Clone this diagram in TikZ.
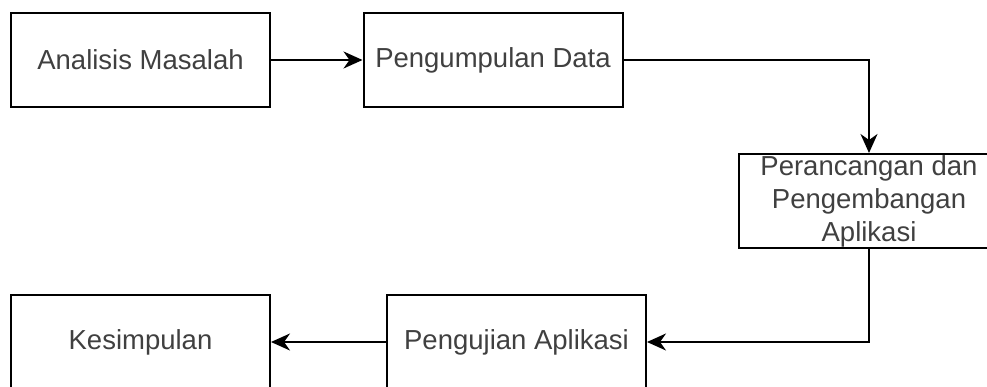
\documentclass[tikz,border=0pt]{standalone}
\usepackage{fontspec}
\setmainfont{Liberation Sans}
\usetikzlibrary{arrows.meta}
\begin{document}
\begin{tikzpicture}[x=1pt,y=-1pt,
  stepbox/.style={draw=black, line width=2pt, minimum width=259pt, minimum height=94pt,
    inner sep=0pt, text=black!75, font=\fontsize{27.5}{33}\selectfont, align=center},
  flow/.style={line width=2pt, -{Stealth[length=19pt,width=17pt,inset=6pt]}}]
\clip (0,0) rectangle (987,387);
% process steps
\node[stepbox] (b1) at (140.5,60) {Analisis Masalah};
\node[stepbox] (b2) at (493,60) {Pengumpulan Data};
\node[stepbox, minimum width=260pt] (b3) at (869,201) {Perancangan dan\\Pengembangan\\Aplikasi};
\node[stepbox] (b4) at (516.5,342) {Pengujian Aplikasi};
\node[stepbox] (b5) at (140.5,342) {Kesimpulan};
% flow between steps
\draw[flow] (b1) -- (b2);
\draw[flow] (b2.east) -| (b3.north);
\draw[flow] (b3.south) |- (b4.east);
\draw[flow] (b4) -- (b5);
\end{tikzpicture}
\end{document}
